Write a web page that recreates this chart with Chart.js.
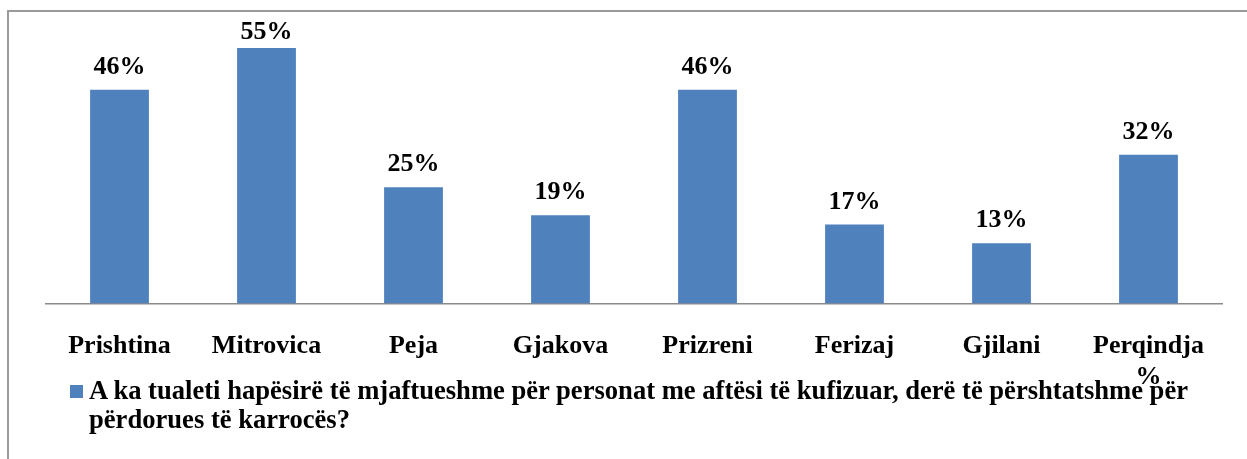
<!DOCTYPE html>
<html>
<head>
    <meta charset="UTF-8">
    <script src="https://cdn.jsdelivr.net/npm/chart.js"></script>
    <style>
        body { margin: 0; background: #fff; }
        #wrap { position: relative; width: 1247px; height: 459px; overflow: hidden; }
        #frame { position: absolute; left: 7px; top: 10px; width: 1260px; height: 470px;
                 border-top: 2px solid #9a9a9a; border-left: 2px solid #9a9a9a; }
        #legend { position: absolute; left: 70px; top: 376px;
                  font: bold 26.6px "Liberation Serif", "Times New Roman", serif;
                  line-height: 29px; color: #000; }
        #legend .box { position: absolute; left: 0; top: 9px; width: 13px; height: 13px; background: #4F81BD; }
        #legend .txt { margin-left: 19px; white-space: nowrap; }
    </style>
</head>
<body>
<div id="wrap">
    <div id="frame"></div>
    <canvas id="toiletChart" width="1247" height="459"></canvas>
    <div id="legend"><span class="box"></span><div class="txt" id="legendText"></div></div>
</div>

<script>
    const cities = ['Prishtina', 'Mitrovica', 'Peja', 'Gjakova', 'Prizreni', 'Ferizaj', 'Gjilani', ['Perqindja', '%']];
    const percent = [46, 55, 25, 19, 46, 17, 13, 32];
    const seriesName = ['A ka tualeti hapësirë të mjaftueshme për personat me aftësi të kufizuar, derë të përshtatshme për',
                        'përdorues të karrocës?'];

    document.getElementById('legendText').innerHTML = seriesName.join('<br>');

    const serif = '"Liberation Serif", "Times New Roman", serif';

    const valueLabels = {
        id: 'valueLabels',
        afterDatasetsDraw(chart) {
            const ctx = chart.ctx;
            const meta = chart.getDatasetMeta(0);
            ctx.save();
            ctx.font = 'bold 26px ' + serif;
            ctx.fillStyle = '#000';
            ctx.textAlign = 'center';
            ctx.textBaseline = 'alphabetic';
            meta.data.forEach((bar, i) => {
                const y = Math.max(bar.y - 16, chart.chartArea.top + 19);
                ctx.fillText(percent[i] + '%', bar.x, y);
            });
            ctx.restore();
        }
    };

    new Chart(document.getElementById('toiletChart'), {
        type: 'bar',
        data: {
            labels: cities,
            datasets: [{
                label: seriesName.join(' '),
                data: percent,
                backgroundColor: '#4F81BD',
                barPercentage: 0.4,
                categoryPercentage: 1
            }]
        },
        options: {
            responsive: false,
            animation: false,
            layout: { padding: { left: 46, right: 25, top: 20, bottom: 39 } },
            plugins: {
                legend: { display: false },
                tooltip: { enabled: false }
            },
            scales: {
                x: {
                    grid: { display: false, drawTicks: false },
                    border: { display: true, color: '#8a8a8a', width: 1.5 },
                    ticks: {
                        color: '#000',
                        padding: 27,
                        maxRotation: 0,
                        autoSkip: false,
                        font: { family: serif, size: 26, weight: 'bold', lineHeight: 1.2 }
                    }
                },
                y: {
                    display: false,
                    min: 0,
                    max: 61
                }
            }
        },
        plugins: [valueLabels]
    });
</script>
</body>
</html>
